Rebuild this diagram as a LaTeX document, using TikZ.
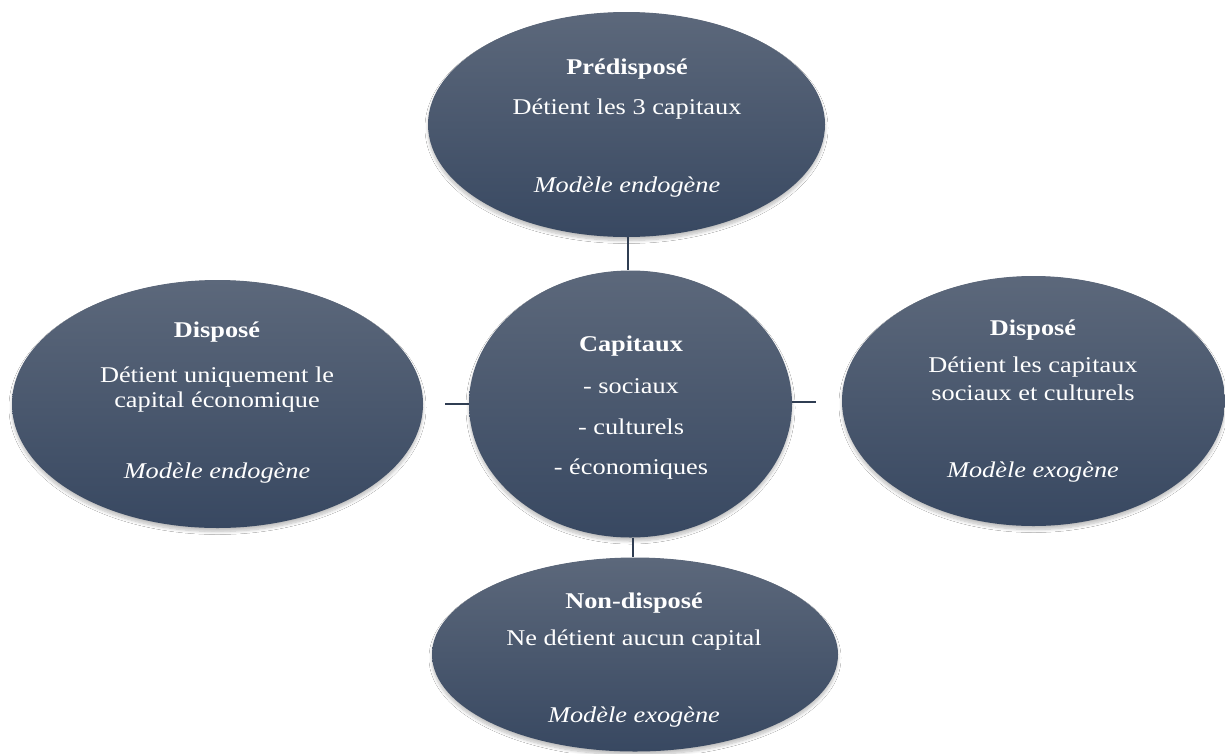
\documentclass[tikz,border=0pt]{standalone}
\usepackage{fontspec}
\setmainfont{Liberation Serif}[FakeStretch=1.17]
\usetikzlibrary{shapes.geometric,shadows.blur}
\definecolor{ovtop}{HTML}{5C687B}
\definecolor{ovbot}{HTML}{384861}
\definecolor{linkc}{HTML}{2F3D52}
\begin{document}
\begin{tikzpicture}[x=1pt,y=-1pt,
  oval/.style={ellipse, inner sep=0pt, draw=none, top color=ovtop, bottom color=ovbot,
    blur shadow={shadow xshift=0pt, shadow yshift=-3.5pt, shadow blur radius=3pt, shadow blur steps=8, shadow opacity=25}},
  txt/.style={anchor=base, inner sep=0pt, text=white, font=\fontsize{22.5}{25}\selectfont},
  ttl/.style={txt, font=\fontsize{22.5}{25}\selectfont\bfseries},
  mdl/.style={txt, font=\fontsize{22.5}{25}\selectfont\itshape},
  link/.style={draw=linkc, line width=2.2pt}]
\path[fill=white, use as bounding box] (0,0) rectangle (1225,753);

% ellipses
\node[oval, minimum width=397, minimum height=225] (pre) at (626.5,124.5) {};
\node[oval, minimum width=323, minimum height=267] (cap) at (630.5,404) {};
\node[oval, minimum width=411, minimum height=248] (left) at (217.5,404) {};
\node[oval, minimum width=383, minimum height=250] (right) at (1033.5,401) {};
\node[oval, minimum width=406, minimum height=194] (non) at (635,654.5) {};

% connectors
\coordinate (lstub) at (445,404);
\coordinate (rstub) at (816,402);
\draw[link] ([xshift=1.5pt]pre.south) -- ([xshift=1.5pt]pre.south |- cap.north);
\draw[link] (cap.west) -- (cap.west -| lstub);
\draw[link] ([yshift=2pt]cap.east) -- ([yshift=2pt]cap.east -| rstub);
\draw[link] ([xshift=2.5pt]cap.south) -- ([xshift=2.5pt]cap.south |- non.north);

% top
\node[ttl] (pre-t) at (627,74) {Prédisposé};
\node[txt] (pre-a) at (627,114) {Détient les 3 capitaux};
\node[mdl] (pre-m) at (627,192) {Modèle endogène};

% center
\node[ttl] (cap-t) at (631,351) {Capitaux};
\node[txt] (cap-a) at (631,393) {- sociaux};
\node[txt] (cap-b) at (631,434) {- culturels};
\node[txt] (cap-c) at (631,474) {- économiques};

% left
\node[ttl] (left-t) at (217,337) {Disposé};
\node[txt] (left-a) at (217,382) {Détient uniquement le};
\node[txt] (left-b) at (217,407) {capital économique};
\node[mdl] (left-m) at (217,478) {Modèle endogène};

% right
\node[ttl] (right-t) at (1033,335) {Disposé};
\node[txt] (right-a) at (1033,372) {Détient les capitaux};
\node[txt] (right-b) at (1033,400) {sociaux et culturels};
\node[mdl] (right-m) at (1033,477) {Modèle exogène};

% bottom
\node[ttl] (non-t) at (634,608) {Non-disposé};
\node[txt] (non-a) at (634,645) {Ne détient aucun capital};
\node[mdl] (non-m) at (634,722) {Modèle exogène};
\end{tikzpicture}
\end{document}
